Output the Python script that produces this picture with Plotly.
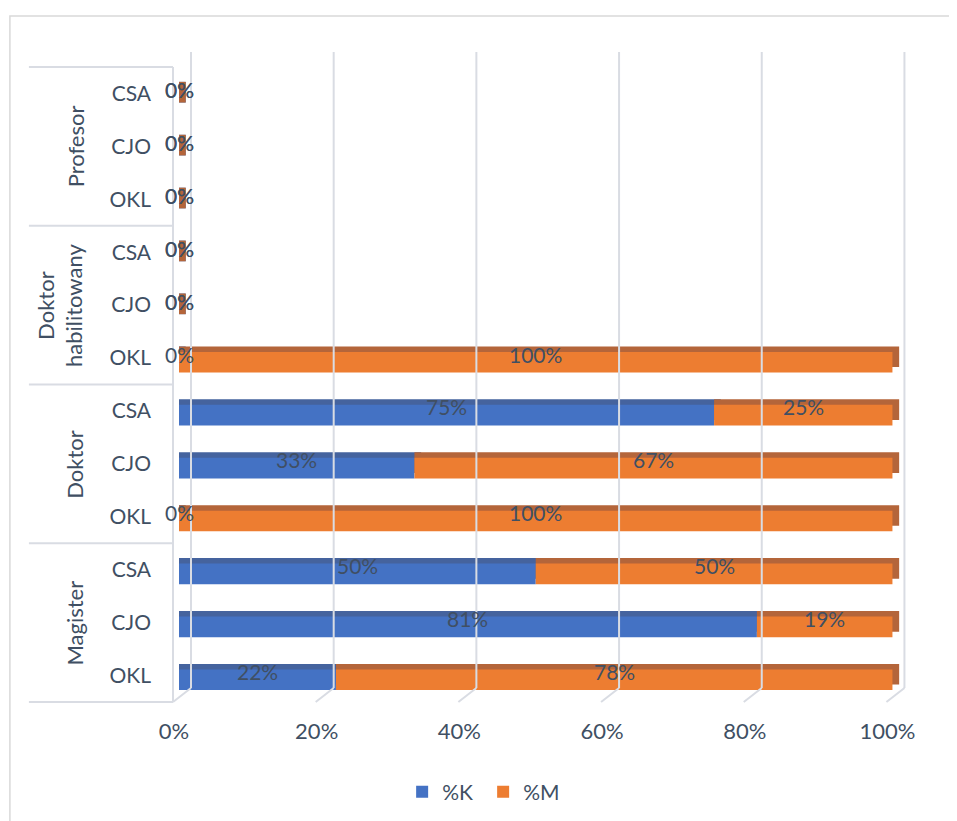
"""Stacked 3D-style horizontal bars: %K vs %M by degree and unit."""
import plotly.graph_objects as go

GROUPS = ["Magister", "Doktor", "Doktor<br>habilitowany", "Profesor"]
UNITS = ["OKL", "CJO", "CSA"]
SERIES = ["%K", "%M"]
PCT_K = [0.22, 0.81, 0.50, 0.00, 0.33, 0.75, 0.00, 0.00, 0.00, 0.00, 0.00, 0.00]
PCT_M = [0.78, 0.19, 0.50, 1.00, 0.67, 0.25, 1.00, 0.00, 0.00, 0.00, 0.00, 0.00]
X_TICKS = [0, 0.2, 0.4, 0.6, 0.8, 1.0]

INK = "#404F63"
GRID = "#D9DCE3"
FRONT = {"%K": "#4472C4", "%M": "#ED7D31"}
DEPTH = {"%K": "#45639E", "%M": "#B4653A"}
FONT = "Lato, Calibri, sans-serif"

# page body has an 8px margin: figure px = screen px - OFS
OFS = 8
X_MAX = 1.012  # a little room on the right for the bar end faces
W, H = 957, 821
L, T, B = 171, 59, 127
PW = 713 * X_MAX
R = W - L - PW
PH = H - T - B


def px_x(sx):
    return (sx - OFS - L) / PW


def px_y(sy):
    return (H - B - (sy - OFS)) / PH


rows = [(g, u) for g in GROUPS for u in UNITS]
pos = list(range(len(rows)))
values = {"%K": PCT_K, "%M": PCT_M}
bases = {"%K": [0.0] * len(pos), "%M": PCT_K}

BAR_W = 0.39
FRONT_OFF = -0.275
DEPTH_DY = 0.104
DEPTH_DX = 0.0094

fig = go.Figure()
# "3D" top/end faces drawn behind the front faces
for s in SERIES:
    fig.add_trace(go.Bar(
        y=pos, x=[v + DEPTH_DX for v in values[s]], base=bases[s],
        orientation="h", width=BAR_W, offset=FRONT_OFF + DEPTH_DY,
        marker=dict(color=DEPTH[s], line=dict(width=0)),
        showlegend=False, hoverinfo="skip",
    ))
for s in SERIES:
    fig.add_trace(go.Bar(
        y=pos, x=values[s], base=bases[s], name=s,
        orientation="h", width=BAR_W, offset=FRONT_OFF,
        marker=dict(color=FRONT[s], line=dict(width=0)),
    ))

# data labels in the middle of each segment
for s in SERIES:
    for p, v, b in zip(pos, values[s], bases[s]):
        fig.add_annotation(
            x=b + v / 2, y=p, xref="x", yref="y", text=f"{v:.0%}",
            showarrow=False, yshift=4, font=dict(size=21, color=INK, family=FONT),
        )

shapes = []
# back-wall gridlines and floor diagonals
for t in X_TICKS:
    shapes.append(dict(type="line", xref="paper", yref="paper", xsizemode="pixel",
                       xanchor=t / X_MAX, x0=12, x1=12, y0=px_y(688), y1=px_y(52),
                       line=dict(color=GRID, width=2)))
    shapes.append(dict(type="line", xref="paper", yref="paper", xsizemode="pixel",
                       xanchor=t / X_MAX, x0=-6, x1=12, y0=px_y(702), y1=px_y(688),
                       line=dict(color=GRID, width=2)))
# front axis line
shapes.append(dict(type="line", xref="paper", yref="paper", xsizemode="pixel",
                   xanchor=0, x0=-6, x1=-6, y0=0, y1=1,
                   line=dict(color=GRID, width=2)))
# group dividers
for k in range(len(GROUPS) + 1):
    yb = k * len(UNITS) / len(rows)
    shapes.append(dict(type="line", xref="paper", yref="paper",
                       x0=px_x(29), x1=px_x(173), y0=yb, y1=yb,
                       line=dict(color=GRID, width=2)))
# chart border
shapes.append(dict(type="rect", xref="paper", yref="paper",
                   x0=px_x(10), x1=px_x(W + 40), y0=px_y(H + 40), y1=px_y(16),
                   line=dict(color="#D9D9D9", width=1.5)))

for k, g in enumerate(GROUPS):
    mid = k * len(UNITS) + (len(UNITS) - 1) / 2
    two = "<br>" in g
    fig.add_annotation(
        x=px_x(60 if two else 75), y=mid, xref="paper", yref="y", text=g,
        textangle=-90, showarrow=False, xanchor="center", yanchor="middle",
        font=dict(size=22, color=INK, family=FONT),
    )

fig.update_layout(
    width=W, height=H, barmode="overlay",
    margin=dict(l=L, r=R, t=T, b=B, pad=0),
    paper_bgcolor="white", plot_bgcolor="white",
    font=dict(family=FONT, size=21, color=INK),
    shapes=shapes,
    legend=dict(orientation="h", x=px_x(402), xanchor="left", y=px_y(792),
                yanchor="middle", font=dict(size=21, color=INK),
                itemwidth=30, entrywidth=36, traceorder="normal"),
)
fig.update_xaxes(range=[0, X_MAX], tickvals=X_TICKS, tickformat=".0%", showgrid=False,
                 zeroline=False, showline=False, ticks="", ticklabelstandoff=14,
                 ticklabelshift=-5, tickfont=dict(size=22, color=INK))
fig.update_yaxes(range=[-0.5, len(rows) - 0.5], tickvals=pos,
                 ticktext=[u for _, u in rows], showgrid=False, zeroline=False,
                 showline=False, ticks="", ticklabelstandoff=27,
                 tickfont=dict(size=21, color=INK))

fig.write_html("out.html")
